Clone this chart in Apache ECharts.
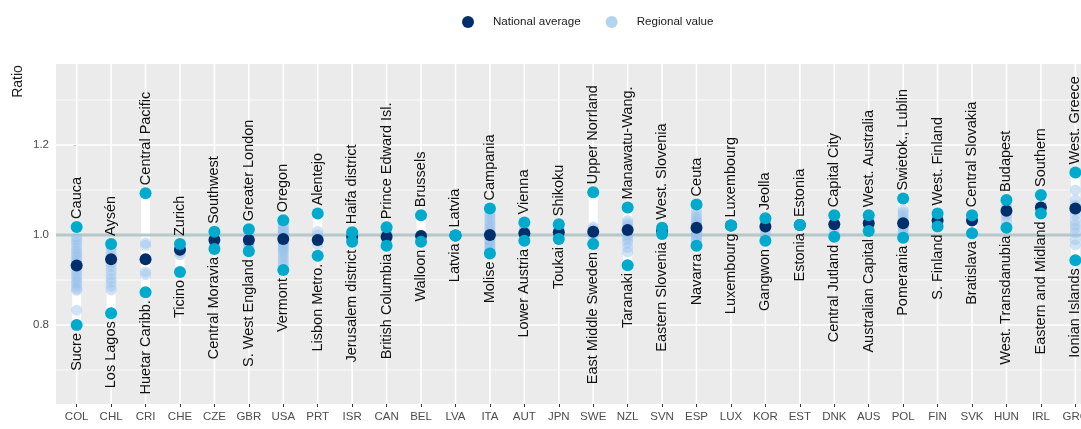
<!DOCTYPE html>
<html>
<head>
<meta charset="utf-8">
<script src="https://cdn.jsdelivr.net/npm/echarts@6/dist/echarts.min.js"></script>
<style>
  html, body { margin: 0; padding: 0; overflow: hidden; background: #fff; }
  #chart { width: 1081px; height: 429px; }
</style>
</head>
<body>
<div id="chart"></div>
<script>
// ---- data ----
var countries = ['COL', 'CHL', 'CRI', 'CHE', 'CZE', 'GBR', 'USA', 'PRT', 'ISR', 'CAN',
  'BEL', 'LVA', 'ITA', 'AUT', 'JPN', 'SWE', 'NZL', 'SVN', 'ESP', 'LUX',
  'KOR', 'EST', 'DNK', 'AUS', 'POL', 'FIN', 'SVK', 'HUN', 'IRL', 'GRC'];

var nationalAvg = [0.932, 0.946, 0.946, 0.967, 0.989, 0.989, 0.991, 0.989, 0.996, 0.996,
  0.998, 0.999, 1.0, 1.004, 1.006, 1.007, 1.011, 1.009, 1.016, 1.021,
  1.019, 1.022, 1.024, 1.026, 1.026, 1.032, 1.032, 1.054, 1.061, 1.059];

var maxNames = ['Cauca', 'Aysén', 'Central Pacific', 'Zurich', 'Southwest', 'Greater London', 'Oregon', 'Alentejo', 'Haifa district', 'Prince Edward Isl.',
  'Brussels', 'Latvia', 'Campania', 'Vienna', 'Shikoku', 'Upper Norrland', 'Manawatu-Wang.', 'West. Slovenia', 'Ceuta', 'Luxembourg',
  'Jeolla', 'Estonia', 'Capital City', 'West. Australia', 'Swietok., Lublin', 'West. Finland', 'Central Slovakia', 'Budapest', 'Southern', 'West. Greece'];

var minNames = ['Sucre', 'Los Lagos', 'Huetar Caribb.', 'Ticino', 'Central Moravia', 'S. West England', 'Vermont', 'Lisbon Metro.', 'Jerusalem district', 'British Columbia',
  'Walloon', 'Latvia', 'Molise', 'Lower Austria', 'Toukai', 'East Middle Sweden', 'Taranaki', 'Eastern Slovenia', 'Navarra', 'Luxembourg',
  'Gangwon', 'Estonia', 'Central Jutland', 'Australian Capital', 'Pomerania', 'S. Finland', 'Bratislava', 'West. Transdanubia', 'Eastern and Midland', 'Ionian Islands'];

var regional = [
  [1.018, 0.996, 0.99, 0.984, 0.977, 0.97, 0.964, 0.958, 0.953, 0.947, 0.942, 0.936, 0.928, 0.921, 0.915, 0.91, 0.904, 0.898, 0.893, 0.887, 0.881, 0.877, 0.833, 0.80],
  [0.98, 0.972, 0.963, 0.955, 0.946, 0.938, 0.93, 0.921, 0.912, 0.903, 0.895, 0.886, 0.878, 0.826],
  [1.093, 0.982, 0.977, 0.918, 0.912, 0.873],
  [0.98, 0.976, 0.971, 0.966, 0.961, 0.956, 0.918],
  [1.007, 1.0, 0.995, 0.99, 0.985, 0.98, 0.975, 0.969],
  [1.013, 1.006, 1.0, 0.996, 0.992, 0.989, 0.986, 0.982, 0.978, 0.974, 0.969, 0.964],
  [1.033, 1.024, 1.02, 1.016, 1.012, 1.009, 1.006, 1.003, 1.0, 0.997, 0.994, 0.991, 0.988, 0.985, 0.982, 0.979, 0.975, 0.971, 0.967, 0.962, 0.957, 0.951, 0.945, 0.938, 0.932, 0.922],
  [1.048, 1.008, 1.0, 0.992, 0.986, 0.978, 0.954],
  [1.006, 1.003, 0.999, 0.994, 0.99, 0.985],
  [1.017, 1.011, 1.006, 1.001, 0.998, 0.994, 0.99, 0.985, 0.98, 0.976],
  [1.044, 1.0, 0.985],
  [0.999],
  [1.059, 1.05, 1.044, 1.038, 1.032, 1.026, 1.02, 1.015, 1.01, 1.005, 1.0, 0.996, 0.992, 0.988, 0.984, 0.98, 0.976, 0.972, 0.967, 0.963, 0.959],
  [1.028, 1.014, 1.009, 1.006, 1.003, 1.0, 0.996, 0.991, 0.987],
  [1.024, 1.016, 1.012, 1.009, 1.006, 1.003, 1.0, 0.997, 0.994, 0.991],
  [1.095, 1.018, 1.013, 1.009, 1.005, 1.001, 0.996, 0.98],
  [1.061, 1.032, 1.026, 1.021, 1.016, 1.011, 1.006, 1.001, 0.996, 0.99, 0.982, 0.972, 0.962, 0.933],
  [1.016, 1.002],
  [1.068, 1.055, 1.046, 1.04, 1.035, 1.03, 1.026, 1.022, 1.018, 1.014, 1.01, 1.006, 1.002, 0.998, 0.994, 0.99, 0.985, 0.98, 0.976],
  [1.021],
  [1.037, 1.03, 1.023, 1.016, 1.01, 1.0, 0.987],
  [1.022],
  [1.044, 1.022, 1.015, 1.006, 0.996],
  [1.044, 1.036, 1.031, 1.026, 1.022, 1.018, 1.013, 1.009],
  [1.081, 1.081, 1.056, 1.05, 1.044, 1.038, 1.033, 1.028, 1.023, 1.018, 1.013, 1.008, 1.003, 0.999, 0.994],
  [1.048, 1.04, 1.031, 1.025, 1.019],
  [1.044, 1.04, 1.035, 1.004],
  [1.078, 1.066, 1.058, 1.051, 1.045, 1.04, 1.03, 1.016],
  [1.089, 1.068, 1.048],
  [1.139, 1.1, 1.078, 1.066, 1.054, 1.044, 1.032, 1.022, 1.015, 1.005, 0.99, 0.978, 0.944]
];

var yTickLabels = [0.8, 1.0, 1.2];
var yMinorLines = [0.7, 0.9, 1.1, 1.3];
var refValue = [1.0];

// ---- build ----
var FONT = 'Liberation Sans, Arial, sans-serif';
var X_MIN = -0.6, X_MAX = countries.length - 1 + 0.6;
var Y_MIN = 0.6244, Y_MAX = 1.38;

var idx = countries.map(function (c, i) { return i; });
var maxVals = regional.map(function (r) { return Math.max.apply(null, r); });
var minVals = regional.map(function (r) { return Math.min.apply(null, r); });

var regionalPts = [];
regional.forEach(function (r, i) {
  r.forEach(function (v) { regionalPts.push([i, v]); });
});

function hLine(width, color) {
  return function (params, api) {
    var a = api.coord([X_MIN, api.value(1)]);
    var b = api.coord([X_MAX, api.value(1)]);
    return { type: 'line', shape: { x1: a[0], y1: a[1], x2: b[0], y2: b[1] },
      style: { stroke: color, lineWidth: width } };
  };
}

var chart = echarts.init(document.getElementById('chart'), null, { renderer: 'canvas' });

var option = {
  animation: false,
  textStyle: { fontFamily: FONT },
  legend: {
    data: [
      { name: 'National average', itemStyle: { color: '#002f6c', opacity: 1 } },
      { name: 'Regional value', itemStyle: { color: '#b4d3ef', opacity: 1 } }
    ],
    left: 457, top: 11,
    icon: 'circle', itemWidth: 12, itemHeight: 12, itemGap: 25,
    selectedMode: false,
    textStyle: { fontSize: 11.6, color: '#1a1a1a', fontFamily: FONT, padding: [0, 0, 0, 14] }
  },
  graphic: [{
    type: 'text', x: 18.5, y: 81.5, rotation: Math.PI / 2,
    style: { text: 'Ratio', font: '14px ' + FONT, fill: '#1a1a1a', textAlign: 'center', textVerticalAlign: 'middle' }
  }],
  grid: { left: 56, top: 64, width: 1040, height: 340, backgroundColor: '#ebebeb', show: true, borderWidth: 0,
    outerBoundsMode: 'none', containLabel: false },
  xAxis: {
    type: 'value', min: X_MIN, max: X_MAX,
    splitLine: { show: false },
    axisLine: { show: false },
    axisTick: { show: true, customValues: idx, length: 3, lineStyle: { color: '#333', width: 1 } },
    axisLabel: {
      customValues: idx, margin: 7, fontSize: 11.5, color: '#4d4d4d', fontFamily: FONT,
      formatter: function (v) { return countries[Math.round(v)]; }
    }
  },
  yAxis: {
    type: 'value', min: Y_MIN, max: Y_MAX,
    splitLine: { show: false },
    axisLine: { show: false },
    axisTick: { show: true, customValues: yTickLabels, length: 3, lineStyle: { color: '#333', width: 1 } },
    axisLabel: {
      customValues: yTickLabels, margin: 7, fontSize: 11.5, color: '#4d4d4d', fontFamily: FONT,
      formatter: function (v) { return v.toFixed(1); }
    }
  },
  series: [
    // minor horizontal grid
    { type: 'custom', z: 1, silent: true, data: yMinorLines.map(function (v) { return [0, v]; }),
      encode: { x: 0, y: 1 }, renderItem: hLine(0.8, '#ffffff') },
    // major horizontal grid
    { type: 'custom', z: 1, silent: true, data: yTickLabels.map(function (v) { return [0, v]; }),
      encode: { x: 0, y: 1 }, renderItem: hLine(1.6, '#ffffff') },
    // vertical grid
    { type: 'custom', z: 1, silent: true, data: idx.map(function (i) { return [i, 1]; }),
      encode: { x: 0, y: 1 },
      renderItem: function (params, api) {
        var a = api.coord([api.value(0), Y_MIN]);
        var b = api.coord([api.value(0), Y_MAX]);
        return { type: 'line', shape: { x1: a[0], y1: a[1], x2: b[0], y2: b[1] },
          style: { stroke: '#ffffff', lineWidth: 1.6 } };
      } },
    // range bars
    { type: 'custom', z: 2, silent: true,
      data: idx.map(function (i) { return [i, minVals[i], maxVals[i]]; }),
      encode: { x: 0, y: [1, 2] },
      renderItem: function (params, api) {
        var top = api.coord([api.value(0), api.value(2)]);
        var bot = api.coord([api.value(0), api.value(1)]);
        return { type: 'rect', shape: { x: top[0] - 4.5, y: top[1], width: 9, height: bot[1] - top[1] },
          style: { fill: '#ffffff' } };
      } },
    // reference line at 1
    { type: 'custom', z: 3, silent: true, data: refValue.map(function (v) { return [0, v]; }),
      encode: { x: 0, y: 1 }, renderItem: hLine(3.2, '#b6c8ca') },
    // regional values
    { name: 'Regional value', type: 'scatter', z: 4, symbolSize: 11,
      itemStyle: { color: 'rgba(150,192,234,0.45)', opacity: 1 },
      data: regionalPts },
    // national average
    { name: 'National average', type: 'scatter', z: 5, symbolSize: 12,
      itemStyle: { color: '#002f6c', opacity: 1 },
      data: idx.map(function (i) { return [i, nationalAvg[i]]; }) },
    // min
    { name: 'min', type: 'scatter', z: 6, symbolSize: 12,
      itemStyle: { color: '#00aacc', opacity: 1 },
      data: idx.map(function (i) { return [i, minVals[i]]; }),
      label: { show: true, position: 'bottom', distance: 2, rotate: 90, align: 'right', verticalAlign: 'middle',
        fontSize: 14.5, color: '#111', fontFamily: FONT,
        formatter: function (p) { return minNames[p.dataIndex]; } } },
    // max
    { name: 'max', type: 'scatter', z: 6, symbolSize: 12,
      itemStyle: { color: '#00aacc', opacity: 1 },
      data: idx.map(function (i) { return [i, maxVals[i]]; }),
      label: { show: true, position: 'top', distance: 2, rotate: 90, align: 'left', verticalAlign: 'middle',
        fontSize: 14.5, color: '#111', fontFamily: FONT,
        formatter: function (p) { return maxNames[p.dataIndex]; } } }
  ]
};

chart.setOption(option);
</script>
</body>
</html>
